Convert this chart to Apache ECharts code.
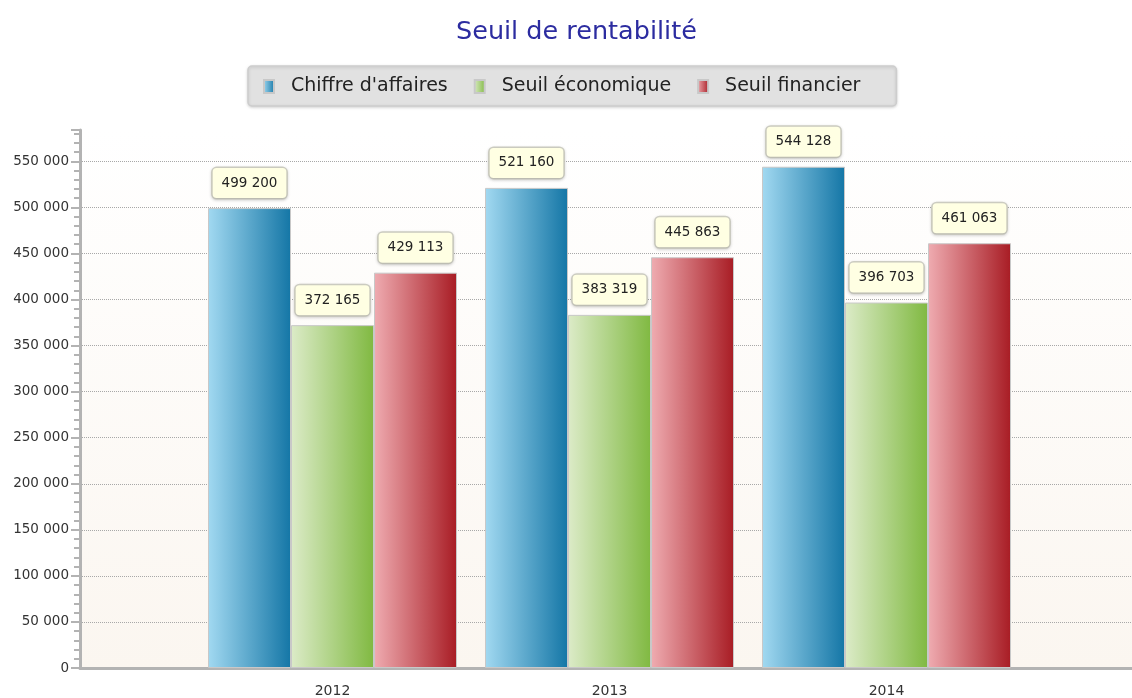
<!DOCTYPE html>
<html>
<head>
<meta charset="utf-8">
<script src="https://cdn.jsdelivr.net/npm/echarts@6/dist/echarts.min.js"></script>
<style>
    html, body { margin: 0; padding: 0; background: #fff; }
    #chart { width: 1132px; height: 698px; }
</style>
</head>
<body>
<div id="chart"></div>
<script>
/* data */
const years = ['2012', '2013', '2014'];
const seriesNames = ['Chiffre d\'affaires', 'Seuil économique', 'Seuil financier'];
const chiffreAffaires = [499200, 521160, 544128];
const seuilEconomique = [372165, 383319, 396703];
const seuilFinancier = [429113, 445863, 461063];
const yMax = 584000;
const yStep = 50000;

const FONT = 'DejaVu Sans';

function spaced(v) {
    return String(v).replace(/\B(?=(\d{3})+(?!\d))/g, ' ');
}

function hGrad(from, to) {
    return {
        type: 'linear', x: 0, y: 0, x2: 1, y2: 0,
        colorStops: [{ offset: 0, color: from }, { offset: 1, color: to }]
    };
}

const gradients = [
    hGrad('#a2d9f1', '#1476a6'),
    hGrad('#dcebc8', '#80b941'),
    hGrad('#efacb1', '#a81c24'),
];

const valueLabel = {
    show: true,
    position: 'top',
    distance: 10,
    formatter: p => spaced(p.value),
    fontFamily: FONT,
    fontSize: 13.5,
    color: '#222',
    backgroundColor: '#ffffe3',
    borderColor: '#cfcfc4',
    borderWidth: 1.5,
    borderRadius: 4,
    padding: [8, 9, 8, 9],
    shadowColor: 'rgba(0,0,0,0.15)',
    shadowBlur: 3,
    shadowOffsetY: 1,
};

function barSeries(name, values, idx) {
    return {
        name: name,
        type: 'bar',
        xAxisIndex: 1,
        yAxisIndex: 1,
        barWidth: 83,
        barGap: '0%',
        data: values,
        itemStyle: {
            color: gradients[idx],
            borderColor: '#c8c8c8',
            borderWidth: 1,
        },
        label: valueLabel,
    };
}

const chart = echarts.init(document.getElementById('chart'));
chart.setOption({
    animation: false,
    textStyle: { fontFamily: FONT },
    title: {
        text: 'Seuil de rentabilité',
        left: 456,
        top: 19,
        padding: 0,
        textStyle: { color: '#2c2ca0', fontSize: 25.5, fontWeight: 'normal', fontFamily: FONT },
    },
    legend: {
        left: 248,
        top: 66,
        padding: [11, 36, 10, 15],
        itemWidth: 10,
        itemHeight: 13,
        itemGap: 26,
        icon: 'rect',
        backgroundColor: '#e1e1e1',
        borderColor: '#cdcdcd',
        borderWidth: 1.5,
        borderRadius: 4,
        shadowColor: 'rgba(0,0,0,0.15)',
        shadowBlur: 3,
        shadowOffsetY: 1,
        textStyle: { fontSize: 19, color: '#222', fontFamily: FONT, padding: [0, 0, 0, 12] },
        data: seriesNames,
    },
    grid: [
        {
            left: 80, right: 0, top: 130, bottom: 30,
            show: true,
            borderWidth: 0,
            backgroundColor: {
                type: 'linear', x: 0, y: 0, x2: 0, y2: 1,
                colorStops: [{ offset: 0, color: '#ffffff' }, { offset: 1, color: '#fbf6f0' }]
            },
        },
        { left: 194, width: 831, top: 130, bottom: 30 },
    ],
    xAxis: [
        {
            gridIndex: 0,
            type: 'category',
            data: [''],
            axisLine: { lineStyle: { color: '#b3b3b3', width: 3 } },
            axisTick: { show: false },
            axisLabel: { show: false },
        },
        {
            gridIndex: 1,
            type: 'category',
            data: years,
            axisLine: { show: false },
            axisTick: { alignWithLabel: true, length: 7, lineStyle: { color: '#b3b3b3', width: 2 } },
            axisLabel: { fontSize: 14, color: '#333', margin: 16, fontFamily: FONT },
        },
    ],
    yAxis: [
        {
            gridIndex: 0,
            type: 'value',
            min: 0,
            max: yMax,
            interval: yStep,
            axisLine: { show: true, lineStyle: { color: '#b3b3b3', width: 3 } },
            axisTick: { show: true, length: 9, lineStyle: { color: '#b3b3b3', width: 2 } },
            minorTick: { show: true, splitNumber: 5, length: 6, lineStyle: { color: '#b3b3b3', width: 2 } },
            axisLabel: {
                formatter: spaced,
                fontSize: 13.5,
                color: '#333',
                margin: 11,
                showMaxLabel: false,
                fontFamily: FONT,
            },
            splitLine: {
                show: true,
                showMinLine: false,
                showMaxLine: false,
                lineStyle: { color: '#a8a8a8', type: 'dotted', width: 1 },
            },
        },
        {
            gridIndex: 1,
            type: 'value',
            min: 0,
            max: yMax,
            show: false,
            splitLine: { show: false },
        },
    ],
    series: [
        barSeries(seriesNames[0], chiffreAffaires, 0),
        barSeries(seriesNames[1], seuilEconomique, 1),
        barSeries(seriesNames[2], seuilFinancier, 2),
    ],
});
</script>
</body>
</html>
